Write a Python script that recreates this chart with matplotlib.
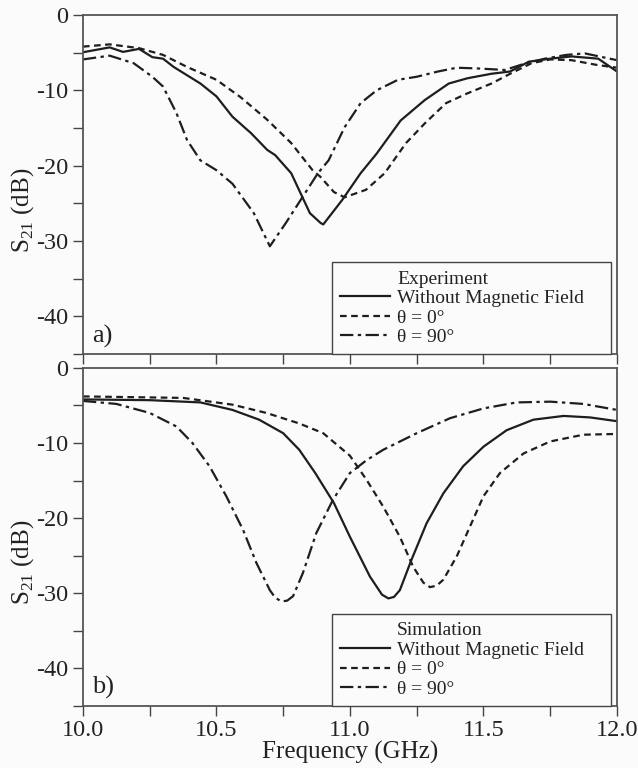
import matplotlib
matplotlib.use("Agg")
import matplotlib.pyplot as plt
from matplotlib.ticker import MultipleLocator

plt.rcParams['font.family'] = ['Liberation Serif', 'DejaVu Serif']
plt.rcParams['mathtext.fontset'] = 'custom'
plt.rcParams['mathtext.rm'] = 'Liberation Serif'

# --- experiment (panel a) ---
exp_f0 = [10.0, 10.10, 10.15, 10.21, 10.26, 10.30, 10.34, 10.44, 10.50, 10.56, 10.63, 10.69, 10.72,
          10.78, 10.85, 10.89, 10.90, 10.97, 11.04, 11.10, 11.19, 11.28, 11.37, 11.44, 11.53, 11.60,
          11.67, 11.75, 11.83, 11.93, 12.0]
exp_s0 = [-4.95, -4.3, -4.9, -4.5, -5.6, -5.8, -6.9, -9.1, -10.8, -13.5, -15.7, -17.9, -18.6,
          -21.0, -26.3, -27.6, -27.8, -24.6, -21.0, -18.4, -14.0, -11.3, -9.1, -8.4, -7.8, -7.5,
          -6.2, -5.8, -5.5, -5.8, -7.5]

exp_f1 = [10.0, 10.10, 10.21, 10.30, 10.39, 10.50, 10.59, 10.69, 10.78, 10.86, 10.89, 10.94, 10.98,
          11.06, 11.13, 11.21, 11.28, 11.36, 11.44, 11.53, 11.60, 11.68, 11.75, 11.83, 11.92, 12.0]
exp_s1 = [-4.2, -3.9, -4.4, -5.3, -6.9, -8.6, -10.9, -13.9, -17.0, -20.6, -21.5, -23.5, -24.2,
          -23.2, -21.0, -17.0, -14.4, -11.7, -10.4, -9.1, -7.8, -6.4, -5.9, -6.0, -6.6, -7.0]

exp_f2 = [10.0, 10.10, 10.19, 10.26, 10.30, 10.35, 10.39, 10.44, 10.50, 10.56, 10.64, 10.70, 10.76,
          10.84, 10.88, 10.92, 10.98, 11.04, 11.10, 11.18, 11.25, 11.33, 11.40, 11.48, 11.58, 11.66,
          11.73, 11.81, 11.88, 12.0]
exp_s2 = [-5.9, -5.4, -6.4, -8.2, -9.5, -13.0, -16.6, -19.3, -20.6, -22.4, -26.3, -30.7, -27.6,
          -23.2, -21.0, -19.3, -14.9, -11.7, -10.0, -8.6, -8.2, -7.5, -7.0, -7.1, -7.3, -6.4,
          -5.8, -5.3, -5.1, -6.0]

# --- simulation (panel b) ---
sim_f0 = [10.0, 10.25, 10.44, 10.56, 10.66, 10.75, 10.81, 10.87, 10.94, 11.0, 11.075, 11.12,
          11.144, 11.165, 11.187, 11.23, 11.287, 11.35, 11.424, 11.5, 11.587, 11.687, 11.8, 11.9, 12.0]
sim_s0 = [-4.2, -4.3, -4.6, -5.6, -6.9, -8.7, -10.9, -14.0, -18.0, -22.5, -27.8, -30.2,
          -30.7, -30.5, -29.6, -25.6, -20.7, -16.7, -13.1, -10.5, -8.3, -6.9, -6.4, -6.6, -7.1]

sim_f1 = [10.0, 10.375, 10.56, 10.687, 10.81, 10.9, 11.0, 11.062, 11.125, 11.187, 11.237, 11.275,
          11.3, 11.325, 11.35, 11.4, 11.45, 11.5, 11.562, 11.65, 11.75, 11.874, 12.0]
sim_s1 = [-3.8, -4.0, -4.9, -6.0, -7.4, -8.7, -11.7, -14.9, -18.5, -22.5, -26.5, -28.6,
          -29.2, -29.0, -28.2, -25.1, -21.1, -17.1, -14.0, -11.4, -9.8, -8.9, -8.8]

sim_f2 = [10.0, 10.125, 10.25, 10.35, 10.41, 10.474, 10.537, 10.6, 10.65, 10.70, 10.72, 10.743,
          10.765, 10.787, 10.824, 10.874, 10.936, 11.0, 11.062, 11.125, 11.25, 11.375, 11.5,
          11.624, 11.75, 11.874, 12.0]
sim_s2 = [-4.4, -4.8, -6.0, -7.8, -10.0, -13.1, -17.1, -21.6, -26.0, -29.6, -30.6, -31.1,
          -31.0, -30.4, -27.3, -22.0, -17.6, -14.0, -12.3, -10.9, -8.7, -6.7, -5.4,
          -4.6, -4.5, -4.8, -5.6]

labels = ['Without Magnetic Field', 'θ = 0°', 'θ = 90°']
styles = ['-', (0, (3, 2)), (0, (6, 2, 1.5, 2))]
lc = '#1e1e1e'
bg = '#fbfbfb'

fig = plt.figure(figsize=(6.38, 7.68), dpi=100)
fig.patch.set_facecolor(bg)
ax1 = fig.add_axes([0.130, 0.539, 0.837, 0.4415])
ax2 = fig.add_axes([0.130, 0.081, 0.837, 0.440])


def panel(ax, data, title, tag, show_x):
    ax.set_facecolor(bg)
    ax.plot([], [], color='none', label=title)
    for (f, s), ls, lab in zip(data, styles, labels):
        ax.plot(f, s, linestyle=ls, color=lc, lw=1.6, label=lab)
    ax.set_xlim(10.0, 12.0)
    ax.set_ylim(-45, 0)
    ax.xaxis.set_major_locator(MultipleLocator(0.5))
    ax.xaxis.set_minor_locator(MultipleLocator(0.25))
    ax.yaxis.set_major_locator(MultipleLocator(10))
    ax.yaxis.set_minor_locator(MultipleLocator(5))
    ax.tick_params(which='both', direction='out', colors='#444444', labelcolor='#222222',
                   labelsize=17.5, width=1.0, length=7)
    ax.xaxis.set_major_formatter(plt.FuncFormatter(lambda v, p: '%.1f' % v))
    ax.yaxis.set_major_formatter(plt.FuncFormatter(lambda v, p: '%d' % v))
    if not show_x:
        ax.tick_params(axis='x', which='both', labelbottom=False)
    for sp in ax.spines.values():
        sp.set_color('#555555')
        sp.set_linewidth(1.3)
    ax.set_ylabel('S$_{21}$ (dB)', fontsize=18, color='#222222')
    ax.yaxis.set_label_coords(-0.088, 0.425)
    ax.text(0.017, 0.035, tag, transform=ax.transAxes, fontsize=19, color='#222222')
    leg = ax.legend(loc='lower left', bbox_to_anchor=(0.466, 0.0, 0.523, 0.3), mode='expand',
                    borderaxespad=0, fontsize=14, handlelength=2.6, handletextpad=0.35,
                    labelspacing=0.1, borderpad=0.4, fancybox=False, framealpha=1,
                    facecolor=bg, edgecolor='#444444')
    leg.get_frame().set_linewidth(1.0)
    for t in leg.get_texts():
        t.set_color('#222222')


panel(ax1, [(exp_f0, exp_s0), (exp_f1, exp_s1), (exp_f2, exp_s2)], 'Experiment', 'a)', False)
panel(ax2, [(sim_f0, sim_s0), (sim_f1, sim_s1), (sim_f2, sim_s2)], 'Simulation', 'b)', True)
ax2.set_xlabel('Frequency (GHz)', fontsize=18, color='#222222', labelpad=0)

fig.savefig('out.png', dpi=100, facecolor=fig.get_facecolor())
